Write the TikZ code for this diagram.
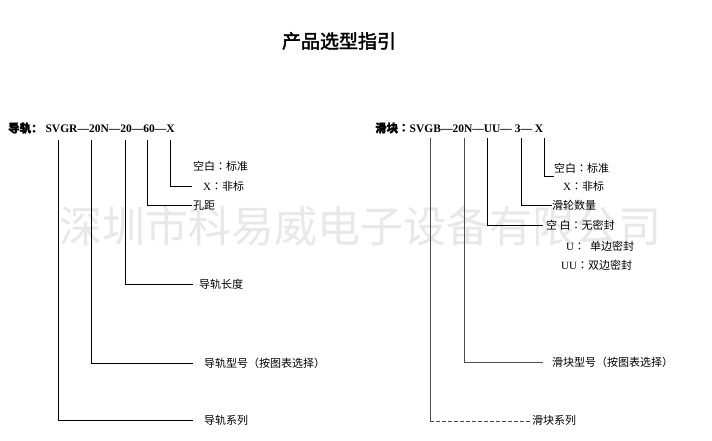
\documentclass[tikz,border=0pt]{standalone}
\usepackage{fontspec}
\setmainfont{Liberation Serif}
\newfontfamily\cjk{Noto Sans CJK SC}
\newfontfamily\cjkjp{Noto Sans CJK JP}
\newfontfamily\cjkbold[FakeBold=2]{Noto Sans CJK SC}
\newcommand\fwcolon{{\cjkjp ：}}
\begin{document}
\begin{tikzpicture}[x=1pt,y=-1pt,
  conn/.style={line width=0.8pt,black},
  connr/.style={line width=0.8pt,black!70},
  lab/.style={anchor=west,inner sep=0pt,font=\cjk\fontsize{11}{13}\selectfont},
  head/.style={anchor=west,inner sep=0pt,font=\fontsize{11.5}{13}\selectfont\bfseries}]
\useasboundingbox (0,0) rectangle (712,441);
\fill[white] (0,0) rectangle (712,441);
% watermark
\node[text=black!9,font=\cjk\fontsize{43}{45}\selectfont,inner sep=0pt] (wm) at (360,226) {深圳市科易威电子设备有限公司};
% title
\node[font=\cjkbold\fontsize{19}{22}\selectfont,inner sep=0pt] (title) at (339,41) {产品选型指引};
% headers
\node[head] (hl) at (8,128) {{\cjkbold 导轨：}\ SVGR—20N—20—60—X};
\node[head] (hr) at (375,128) {{\cjkbold 滑块}{\cjkjp\bfseries ：}SVGB—20N—UU— 3— X};
% left labels
\node[lab] (l1) at (204,420) {导轨系列};
\node[lab] (l2) at (204,363) {导轨型号（按图表选择）};
\node[lab] (l3) at (199,284) {导轨长度};
\node[lab] (l4) at (193,205) {孔距};
\node[lab] (l5a) at (193,166) {空白\fwcolon 标准};
\node[lab] (l5b) at (203,186) {{\rmfamily X}\fwcolon 非标};
% right labels
\node[lab] (r1) at (532,420) {滑块系列};
\node[lab] (r2) at (552,362) {滑块型号（按图表选择）};
\node[lab] (r3a) at (546,225) {空 白\fwcolon 无密封};
\node[lab] (r3b) at (566,246) {{\rmfamily U}\fwcolon\ \ 单边密封};
\node[lab] (r3c) at (561,265) {{\rmfamily UU}\fwcolon 双边密封};
\node[lab] (r4) at (552,205) {滑轮数量};
\node[lab] (r5a) at (554,168) {空白\fwcolon 标准};
\node[lab] (r5b) at (563,186) {{\rmfamily X}\fwcolon 非标};
% connector points
\coordinate (lt1) at (58,140);  \coordinate (le1) at (193,420);
\coordinate (lt2) at (91,140);  \coordinate (le2) at (193,363);
\coordinate (lt3) at (125,140); \coordinate (le3) at (193,284);
\coordinate (lt4) at (147,140); \coordinate (le4) at (192,205);
\coordinate (lt5) at (170,140); \coordinate (le5) at (192,186);
\coordinate (rt1) at (430,138); \coordinate (rc1) at (430,421); \coordinate (re1) at (532,421);
\coordinate (rt2) at (464,138); \coordinate (re2) at (543,362);
\coordinate (rt3) at (487,138); \coordinate (re3) at (543,225);
\coordinate (rt4) at (521,138); \coordinate (re4) at (552,205);
\coordinate (rt5) at (544,138); \coordinate (re5) at (554,176);
% left connectors
\draw[conn] (lt1) |- (le1);
\draw[conn] (lt2) |- (le2);
\draw[conn] (lt3) |- (le3);
\draw[conn] (lt4) |- (le4);
\draw[conn] (lt5) |- (le5);
% right connectors
\draw[connr] (rt1) -- (rc1);
\draw[connr,dash pattern=on 4pt off 2pt] (rc1) -- (re1);
\draw[connr] (rt2) |- (re2);
\draw[conn] (rt3) |- (re3);
\draw[conn] (rt4) |- (re4);
\draw[conn] (rt5) |- (re5);
\end{tikzpicture}
\end{document}
